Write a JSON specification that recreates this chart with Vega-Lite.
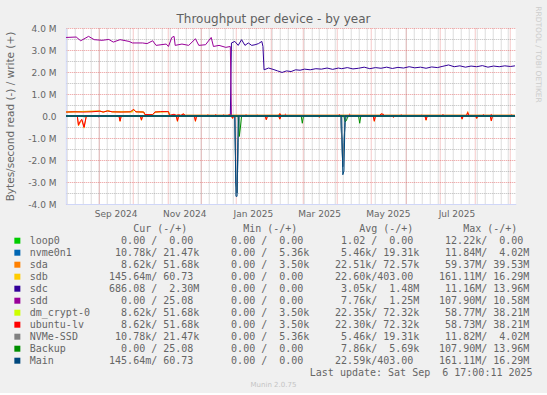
{
  "$schema": "https://vega.github.io/schema/vega-lite/v6.json",
  "background": "#f0f0f0",
  "padding": {"left": 4.75, "top": 5, "right": 5, "bottom": 5},
  "config": {"view": {"stroke": null}, "font": "DejaVu Sans"},
  "title": {"text": "Munin 2.0.75", "orient": "bottom", "anchor": "middle", "frame": "bounds", "font": "DejaVu Sans", "fontSize": 7, "fontWeight": "normal", "color": "#c4c4c4", "offset": 3},
  "datasets": {
    "lines": [
      {"t":"2024-08-03","dev":"loop0","io":"r","v":0},
      {"t":"2025-09-06","dev":"loop0","io":"r","v":0},
      {"t":"2024-08-03","dev":"loop0","io":"w","v":0},
      {"t":"2025-09-06","dev":"loop0","io":"w","v":0},

      {"t":"2024-08-03","dev":"nvme0n1","io":"r","v":0},
      {"t":"2024-12-31","dev":"nvme0n1","io":"r","v":0},
      {"t":"2025-01-01","dev":"nvme0n1","io":"r","v":-3.0},
      {"t":"2025-01-02","dev":"nvme0n1","io":"r","v":-3.5},
      {"t":"2025-01-03","dev":"nvme0n1","io":"r","v":-1.2},
      {"t":"2025-01-04","dev":"nvme0n1","io":"r","v":0},
      {"t":"2025-04-04","dev":"nvme0n1","io":"r","v":0},
      {"t":"2025-04-05","dev":"nvme0n1","io":"r","v":-1.0},
      {"t":"2025-04-06","dev":"nvme0n1","io":"r","v":-2.3},
      {"t":"2025-04-07","dev":"nvme0n1","io":"r","v":-1.2},
      {"t":"2025-04-08","dev":"nvme0n1","io":"r","v":-0.3},
      {"t":"2025-04-09","dev":"nvme0n1","io":"r","v":0},
      {"t":"2025-09-06","dev":"nvme0n1","io":"r","v":0},
      {"t":"2024-08-03","dev":"nvme0n1","io":"w","v":0.02},
      {"t":"2025-09-06","dev":"nvme0n1","io":"w","v":0.02},

      {"t":"2024-08-03","dev":"sda","io":"r","v":0},
      {"t":"2024-08-13","dev":"sda","io":"r","v":0},
      {"t":"2024-08-14","dev":"sda","io":"r","v":-0.45},
      {"t":"2024-08-16","dev":"sda","io":"r","v":-0.25},
      {"t":"2024-08-17","dev":"sda","io":"r","v":-0.2},
      {"t":"2024-08-19","dev":"sda","io":"r","v":-0.55},
      {"t":"2024-08-21","dev":"sda","io":"r","v":0},
      {"t":"2024-09-19","dev":"sda","io":"r","v":0},
      {"t":"2024-09-20","dev":"sda","io":"r","v":-0.25},
      {"t":"2024-09-21","dev":"sda","io":"r","v":0},
      {"t":"2024-10-08","dev":"sda","io":"r","v":0},
      {"t":"2024-10-09","dev":"sda","io":"r","v":-0.2},
      {"t":"2024-10-10","dev":"sda","io":"r","v":0},
      {"t":"2024-11-09","dev":"sda","io":"r","v":0},
      {"t":"2024-11-10","dev":"sda","io":"r","v":-0.25},
      {"t":"2024-11-11","dev":"sda","io":"r","v":0},
      {"t":"2024-11-25","dev":"sda","io":"r","v":0},
      {"t":"2024-11-26","dev":"sda","io":"r","v":-0.25},
      {"t":"2024-11-27","dev":"sda","io":"r","v":0},
      {"t":"2024-12-28","dev":"sda","io":"r","v":0},
      {"t":"2024-12-29","dev":"sda","io":"r","v":-0.12},
      {"t":"2024-12-30","dev":"sda","io":"r","v":0},
      {"t":"2025-01-27","dev":"sda","io":"r","v":0},
      {"t":"2025-01-28","dev":"sda","io":"r","v":-0.18},
      {"t":"2025-01-29","dev":"sda","io":"r","v":0},
      {"t":"2025-02-08","dev":"sda","io":"r","v":0},
      {"t":"2025-02-09","dev":"sda","io":"r","v":-0.15},
      {"t":"2025-02-10","dev":"sda","io":"r","v":0},
      {"t":"2025-03-15","dev":"sda","io":"r","v":0},
      {"t":"2025-03-16","dev":"sda","io":"r","v":-0.06},
      {"t":"2025-03-17","dev":"sda","io":"r","v":0},
      {"t":"2025-05-03","dev":"sda","io":"r","v":0},
      {"t":"2025-05-04","dev":"sda","io":"r","v":-0.25},
      {"t":"2025-05-05","dev":"sda","io":"r","v":0},
      {"t":"2025-05-20","dev":"sda","io":"r","v":0},
      {"t":"2025-05-21","dev":"sda","io":"r","v":-0.06},
      {"t":"2025-05-22","dev":"sda","io":"r","v":0},
      {"t":"2025-06-18","dev":"sda","io":"r","v":0},
      {"t":"2025-06-19","dev":"sda","io":"r","v":-0.2},
      {"t":"2025-06-20","dev":"sda","io":"r","v":0},
      {"t":"2025-07-20","dev":"sda","io":"r","v":0},
      {"t":"2025-07-21","dev":"sda","io":"r","v":-0.15},
      {"t":"2025-07-22","dev":"sda","io":"r","v":0},
      {"t":"2025-08-02","dev":"sda","io":"r","v":0},
      {"t":"2025-08-03","dev":"sda","io":"r","v":-0.12},
      {"t":"2025-08-04","dev":"sda","io":"r","v":0},
      {"t":"2025-08-15","dev":"sda","io":"r","v":0},
      {"t":"2025-08-16","dev":"sda","io":"r","v":-0.23},
      {"t":"2025-08-17","dev":"sda","io":"r","v":0},
      {"t":"2025-09-06","dev":"sda","io":"r","v":0},
      {"t":"2024-08-03","dev":"sda","io":"w","v":0.18},
      {"t":"2024-09-02","dev":"sda","io":"w","v":0.23},
      {"t":"2024-09-05","dev":"sda","io":"w","v":0.18},
      {"t":"2024-09-09","dev":"sda","io":"w","v":0.24},
      {"t":"2024-09-13","dev":"sda","io":"w","v":0.19},
      {"t":"2024-10-01","dev":"sda","io":"w","v":0.19},
      {"t":"2024-10-02","dev":"sda","io":"w","v":0.31},
      {"t":"2024-10-04","dev":"sda","io":"w","v":0.19},
      {"t":"2024-10-11","dev":"sda","io":"w","v":0.18},
      {"t":"2024-10-12","dev":"sda","io":"w","v":0.07},
      {"t":"2024-10-19","dev":"sda","io":"w","v":0.06},
      {"t":"2024-10-21","dev":"sda","io":"w","v":0.18},
      {"t":"2024-11-02","dev":"sda","io":"w","v":0.2},
      {"t":"2024-11-03","dev":"sda","io":"w","v":0.03},
      {"t":"2024-11-14","dev":"sda","io":"w","v":0.03},
      {"t":"2024-11-15","dev":"sda","io":"w","v":0.11},
      {"t":"2024-11-17","dev":"sda","io":"w","v":0.03},
      {"t":"2025-02-08","dev":"sda","io":"w","v":0.03},
      {"t":"2025-02-09","dev":"sda","io":"w","v":0.12},
      {"t":"2025-02-10","dev":"sda","io":"w","v":0.03},
      {"t":"2025-05-09","dev":"sda","io":"w","v":0.03},
      {"t":"2025-05-10","dev":"sda","io":"w","v":0.11},
      {"t":"2025-05-13","dev":"sda","io":"w","v":0.03},
      {"t":"2025-07-25","dev":"sda","io":"w","v":0.03},
      {"t":"2025-07-26","dev":"sda","io":"w","v":0.2},
      {"t":"2025-07-27","dev":"sda","io":"w","v":0.03},
      {"t":"2025-09-06","dev":"sda","io":"w","v":0.03},

      {"t":"2024-08-03","dev":"sdb","io":"r","v":0},
      {"t":"2025-09-06","dev":"sdb","io":"r","v":0},
      {"t":"2024-08-03","dev":"sdb","io":"w","v":0},
      {"t":"2025-09-06","dev":"sdb","io":"w","v":0},

      {"t":"2024-08-03","dev":"sdc","io":"r","v":0},
      {"t":"2025-09-06","dev":"sdc","io":"r","v":0},
      {"t":"2024-08-03","dev":"sdc","io":"w","v":0},
      {"t":"2024-12-27","dev":"sdc","io":"w","v":0},
      {"t":"2024-12-28","dev":"sdc","io":"w","v":3.32},
      {"t":"2024-12-31","dev":"sdc","io":"w","v":3.39},
      {"t":"2025-01-03","dev":"sdc","io":"w","v":3.21},
      {"t":"2025-01-06","dev":"sdc","io":"w","v":3.47},
      {"t":"2025-01-09","dev":"sdc","io":"w","v":3.21},
      {"t":"2025-01-12","dev":"sdc","io":"w","v":3.32},
      {"t":"2025-01-15","dev":"sdc","io":"w","v":3.21},
      {"t":"2025-01-18","dev":"sdc","io":"w","v":3.24},
      {"t":"2025-01-21","dev":"sdc","io":"w","v":3.29},
      {"t":"2025-01-24","dev":"sdc","io":"w","v":3.39},
      {"t":"2025-01-25","dev":"sdc","io":"w","v":3.16},
      {"t":"2025-01-26","dev":"sdc","io":"w","v":2.10},
      {"t":"2025-01-30","dev":"sdc","io":"w","v":2.18},
      {"t":"2025-02-03","dev":"sdc","io":"w","v":2.12},
      {"t":"2025-02-07","dev":"sdc","io":"w","v":2.05},
      {"t":"2025-02-11","dev":"sdc","io":"w","v":1.98},
      {"t":"2025-02-15","dev":"sdc","io":"w","v":2.05},
      {"t":"2025-02-19","dev":"sdc","io":"w","v":2.02},
      {"t":"2025-02-23","dev":"sdc","io":"w","v":2.10},
      {"t":"2025-02-27","dev":"sdc","io":"w","v":2.08},
      {"t":"2025-03-03","dev":"sdc","io":"w","v":2.13},
      {"t":"2025-03-08","dev":"sdc","io":"w","v":2.10},
      {"t":"2025-03-13","dev":"sdc","io":"w","v":2.15},
      {"t":"2025-03-18","dev":"sdc","io":"w","v":2.13},
      {"t":"2025-03-23","dev":"sdc","io":"w","v":2.18},
      {"t":"2025-03-28","dev":"sdc","io":"w","v":2.12},
      {"t":"2025-04-02","dev":"sdc","io":"w","v":2.18},
      {"t":"2025-04-05","dev":"sdc","io":"w","v":2.15},
      {"t":"2025-04-10","dev":"sdc","io":"w","v":2.20},
      {"t":"2025-04-15","dev":"sdc","io":"w","v":2.14},
      {"t":"2025-04-20","dev":"sdc","io":"w","v":2.17},
      {"t":"2025-04-25","dev":"sdc","io":"w","v":2.22},
      {"t":"2025-04-30","dev":"sdc","io":"w","v":2.15},
      {"t":"2025-05-05","dev":"sdc","io":"w","v":2.20},
      {"t":"2025-05-10","dev":"sdc","io":"w","v":2.17},
      {"t":"2025-05-15","dev":"sdc","io":"w","v":2.22},
      {"t":"2025-05-20","dev":"sdc","io":"w","v":2.16},
      {"t":"2025-05-25","dev":"sdc","io":"w","v":2.21},
      {"t":"2025-05-30","dev":"sdc","io":"w","v":2.18},
      {"t":"2025-06-04","dev":"sdc","io":"w","v":2.24},
      {"t":"2025-06-09","dev":"sdc","io":"w","v":2.19},
      {"t":"2025-06-14","dev":"sdc","io":"w","v":2.22},
      {"t":"2025-06-19","dev":"sdc","io":"w","v":2.17},
      {"t":"2025-06-24","dev":"sdc","io":"w","v":2.23},
      {"t":"2025-06-29","dev":"sdc","io":"w","v":2.20},
      {"t":"2025-07-04","dev":"sdc","io":"w","v":2.26},
      {"t":"2025-07-09","dev":"sdc","io":"w","v":2.32},
      {"t":"2025-07-14","dev":"sdc","io":"w","v":2.24},
      {"t":"2025-07-19","dev":"sdc","io":"w","v":2.28},
      {"t":"2025-07-24","dev":"sdc","io":"w","v":2.22},
      {"t":"2025-07-29","dev":"sdc","io":"w","v":2.27},
      {"t":"2025-08-03","dev":"sdc","io":"w","v":2.24},
      {"t":"2025-08-08","dev":"sdc","io":"w","v":2.29},
      {"t":"2025-08-13","dev":"sdc","io":"w","v":2.22},
      {"t":"2025-08-18","dev":"sdc","io":"w","v":2.27},
      {"t":"2025-08-23","dev":"sdc","io":"w","v":2.24},
      {"t":"2025-08-28","dev":"sdc","io":"w","v":2.28},
      {"t":"2025-09-02","dev":"sdc","io":"w","v":2.25},
      {"t":"2025-09-06","dev":"sdc","io":"w","v":2.28},

      {"t":"2024-08-03","dev":"sdd","io":"r","v":0},
      {"t":"2024-08-31","dev":"sdd","io":"r","v":0},
      {"t":"2024-09-01","dev":"sdd","io":"r","v":-0.04},
      {"t":"2024-09-02","dev":"sdd","io":"r","v":0},
      {"t":"2025-09-06","dev":"sdd","io":"r","v":0},
      {"t":"2024-08-03","dev":"sdd","io":"w","v":3.57},
      {"t":"2024-08-12","dev":"sdd","io":"w","v":3.59},
      {"t":"2024-08-16","dev":"sdd","io":"w","v":3.42},
      {"t":"2024-08-23","dev":"sdd","io":"w","v":3.62},
      {"t":"2024-08-28","dev":"sdd","io":"w","v":3.47},
      {"t":"2024-09-04","dev":"sdd","io":"w","v":3.44},
      {"t":"2024-09-10","dev":"sdd","io":"w","v":3.48},
      {"t":"2024-09-14","dev":"sdd","io":"w","v":3.36},
      {"t":"2024-09-20","dev":"sdd","io":"w","v":3.47},
      {"t":"2024-09-28","dev":"sdd","io":"w","v":3.39},
      {"t":"2024-10-01","dev":"sdd","io":"w","v":3.32},
      {"t":"2024-10-10","dev":"sdd","io":"w","v":3.32},
      {"t":"2024-10-14","dev":"sdd","io":"w","v":3.29},
      {"t":"2024-10-19","dev":"sdd","io":"w","v":3.42},
      {"t":"2024-10-22","dev":"sdd","io":"w","v":3.21},
      {"t":"2024-10-31","dev":"sdd","io":"w","v":3.27},
      {"t":"2024-11-02","dev":"sdd","io":"w","v":3.16},
      {"t":"2024-11-05","dev":"sdd","io":"w","v":3.57},
      {"t":"2024-11-07","dev":"sdd","io":"w","v":3.62},
      {"t":"2024-11-08","dev":"sdd","io":"w","v":3.21},
      {"t":"2024-11-14","dev":"sdd","io":"w","v":3.27},
      {"t":"2024-11-20","dev":"sdd","io":"w","v":3.21},
      {"t":"2024-11-26","dev":"sdd","io":"w","v":3.51},
      {"t":"2024-11-29","dev":"sdd","io":"w","v":3.21},
      {"t":"2024-12-05","dev":"sdd","io":"w","v":3.24},
      {"t":"2024-12-10","dev":"sdd","io":"w","v":3.57},
      {"t":"2024-12-12","dev":"sdd","io":"w","v":3.16},
      {"t":"2024-12-17","dev":"sdd","io":"w","v":3.21},
      {"t":"2024-12-23","dev":"sdd","io":"w","v":3.12},
      {"t":"2024-12-27","dev":"sdd","io":"w","v":3.16},
      {"t":"2024-12-28","dev":"sdd","io":"w","v":0},
      {"t":"2025-09-06","dev":"sdd","io":"w","v":0},

      {"t":"2024-08-03","dev":"dm_crypt-0","io":"r","v":0},
      {"t":"2025-09-06","dev":"dm_crypt-0","io":"r","v":0},
      {"t":"2024-08-03","dev":"dm_crypt-0","io":"w","v":0.18},
      {"t":"2024-09-02","dev":"dm_crypt-0","io":"w","v":0.22},
      {"t":"2024-09-05","dev":"dm_crypt-0","io":"w","v":0.18},
      {"t":"2024-09-09","dev":"dm_crypt-0","io":"w","v":0.23},
      {"t":"2024-09-13","dev":"dm_crypt-0","io":"w","v":0.19},
      {"t":"2024-10-01","dev":"dm_crypt-0","io":"w","v":0.19},
      {"t":"2024-10-02","dev":"dm_crypt-0","io":"w","v":0.3},
      {"t":"2024-10-04","dev":"dm_crypt-0","io":"w","v":0.19},
      {"t":"2024-10-11","dev":"dm_crypt-0","io":"w","v":0.18},
      {"t":"2024-10-12","dev":"dm_crypt-0","io":"w","v":0.07},
      {"t":"2024-10-19","dev":"dm_crypt-0","io":"w","v":0.06},
      {"t":"2024-10-21","dev":"dm_crypt-0","io":"w","v":0.18},
      {"t":"2024-11-02","dev":"dm_crypt-0","io":"w","v":0.2},
      {"t":"2024-11-03","dev":"dm_crypt-0","io":"w","v":0.03},
      {"t":"2025-09-06","dev":"dm_crypt-0","io":"w","v":0.03},

      {"t":"2024-08-03","dev":"ubuntu-lv","io":"r","v":0},
      {"t":"2024-08-13","dev":"ubuntu-lv","io":"r","v":0},
      {"t":"2024-08-14","dev":"ubuntu-lv","io":"r","v":-0.4},
      {"t":"2024-08-16","dev":"ubuntu-lv","io":"r","v":-0.2},
      {"t":"2024-08-17","dev":"ubuntu-lv","io":"r","v":-0.15},
      {"t":"2024-08-19","dev":"ubuntu-lv","io":"r","v":-0.5},
      {"t":"2024-08-21","dev":"ubuntu-lv","io":"r","v":0},
      {"t":"2024-09-19","dev":"ubuntu-lv","io":"r","v":0},
      {"t":"2024-09-20","dev":"ubuntu-lv","io":"r","v":-0.22},
      {"t":"2024-09-21","dev":"ubuntu-lv","io":"r","v":0},
      {"t":"2024-10-08","dev":"ubuntu-lv","io":"r","v":0},
      {"t":"2024-10-09","dev":"ubuntu-lv","io":"r","v":-0.18},
      {"t":"2024-10-10","dev":"ubuntu-lv","io":"r","v":0},
      {"t":"2024-11-09","dev":"ubuntu-lv","io":"r","v":0},
      {"t":"2024-11-10","dev":"ubuntu-lv","io":"r","v":-0.22},
      {"t":"2024-11-11","dev":"ubuntu-lv","io":"r","v":0},
      {"t":"2024-11-25","dev":"ubuntu-lv","io":"r","v":0},
      {"t":"2024-11-26","dev":"ubuntu-lv","io":"r","v":-0.22},
      {"t":"2024-11-27","dev":"ubuntu-lv","io":"r","v":0},
      {"t":"2024-12-28","dev":"ubuntu-lv","io":"r","v":0},
      {"t":"2024-12-29","dev":"ubuntu-lv","io":"r","v":-0.1},
      {"t":"2024-12-30","dev":"ubuntu-lv","io":"r","v":0},
      {"t":"2025-01-27","dev":"ubuntu-lv","io":"r","v":0},
      {"t":"2025-01-28","dev":"ubuntu-lv","io":"r","v":-0.16},
      {"t":"2025-01-29","dev":"ubuntu-lv","io":"r","v":0},
      {"t":"2025-02-08","dev":"ubuntu-lv","io":"r","v":0},
      {"t":"2025-02-09","dev":"ubuntu-lv","io":"r","v":-0.13},
      {"t":"2025-02-10","dev":"ubuntu-lv","io":"r","v":0},
      {"t":"2025-03-15","dev":"ubuntu-lv","io":"r","v":0},
      {"t":"2025-03-16","dev":"ubuntu-lv","io":"r","v":-0.05},
      {"t":"2025-03-17","dev":"ubuntu-lv","io":"r","v":0},
      {"t":"2025-05-03","dev":"ubuntu-lv","io":"r","v":0},
      {"t":"2025-05-04","dev":"ubuntu-lv","io":"r","v":-0.22},
      {"t":"2025-05-05","dev":"ubuntu-lv","io":"r","v":0},
      {"t":"2025-05-20","dev":"ubuntu-lv","io":"r","v":0},
      {"t":"2025-05-21","dev":"ubuntu-lv","io":"r","v":-0.05},
      {"t":"2025-05-22","dev":"ubuntu-lv","io":"r","v":0},
      {"t":"2025-06-18","dev":"ubuntu-lv","io":"r","v":0},
      {"t":"2025-06-19","dev":"ubuntu-lv","io":"r","v":-0.18},
      {"t":"2025-06-20","dev":"ubuntu-lv","io":"r","v":0},
      {"t":"2025-07-20","dev":"ubuntu-lv","io":"r","v":0},
      {"t":"2025-07-21","dev":"ubuntu-lv","io":"r","v":-0.13},
      {"t":"2025-07-22","dev":"ubuntu-lv","io":"r","v":0},
      {"t":"2025-08-02","dev":"ubuntu-lv","io":"r","v":0},
      {"t":"2025-08-03","dev":"ubuntu-lv","io":"r","v":-0.1},
      {"t":"2025-08-04","dev":"ubuntu-lv","io":"r","v":0},
      {"t":"2025-08-15","dev":"ubuntu-lv","io":"r","v":0},
      {"t":"2025-08-16","dev":"ubuntu-lv","io":"r","v":-0.21},
      {"t":"2025-08-17","dev":"ubuntu-lv","io":"r","v":0},
      {"t":"2025-09-06","dev":"ubuntu-lv","io":"r","v":0},
      {"t":"2024-08-03","dev":"ubuntu-lv","io":"w","v":0.18},
      {"t":"2024-08-10","dev":"ubuntu-lv","io":"w","v":0.19},
      {"t":"2024-08-18","dev":"ubuntu-lv","io":"w","v":0.18},
      {"t":"2024-08-26","dev":"ubuntu-lv","io":"w","v":0.19},
      {"t":"2024-09-02","dev":"ubuntu-lv","io":"w","v":0.22},
      {"t":"2024-09-05","dev":"ubuntu-lv","io":"w","v":0.18},
      {"t":"2024-09-09","dev":"ubuntu-lv","io":"w","v":0.23},
      {"t":"2024-09-13","dev":"ubuntu-lv","io":"w","v":0.19},
      {"t":"2024-09-21","dev":"ubuntu-lv","io":"w","v":0.18},
      {"t":"2024-09-29","dev":"ubuntu-lv","io":"w","v":0.19},
      {"t":"2024-10-02","dev":"ubuntu-lv","io":"w","v":0.3},
      {"t":"2024-10-04","dev":"ubuntu-lv","io":"w","v":0.19},
      {"t":"2024-10-11","dev":"ubuntu-lv","io":"w","v":0.18},
      {"t":"2024-10-12","dev":"ubuntu-lv","io":"w","v":0.07},
      {"t":"2024-10-19","dev":"ubuntu-lv","io":"w","v":0.06},
      {"t":"2024-10-21","dev":"ubuntu-lv","io":"w","v":0.18},
      {"t":"2024-10-26","dev":"ubuntu-lv","io":"w","v":0.2},
      {"t":"2024-11-02","dev":"ubuntu-lv","io":"w","v":0.2},
      {"t":"2024-11-03","dev":"ubuntu-lv","io":"w","v":0.03},
      {"t":"2024-11-07","dev":"ubuntu-lv","io":"w","v":0.08},
      {"t":"2024-11-09","dev":"ubuntu-lv","io":"w","v":0.03},
      {"t":"2024-11-11","dev":"ubuntu-lv","io":"w","v":0.06},
      {"t":"2024-11-13","dev":"ubuntu-lv","io":"w","v":0.03},
      {"t":"2024-11-15","dev":"ubuntu-lv","io":"w","v":0.09},
      {"t":"2024-11-17","dev":"ubuntu-lv","io":"w","v":0.03},
      {"t":"2024-12-06","dev":"ubuntu-lv","io":"w","v":0.03},
      {"t":"2024-12-07","dev":"ubuntu-lv","io":"w","v":0.05},
      {"t":"2024-12-08","dev":"ubuntu-lv","io":"w","v":0.03},
      {"t":"2024-12-13","dev":"ubuntu-lv","io":"w","v":0.03},
      {"t":"2024-12-14","dev":"ubuntu-lv","io":"w","v":0.06},
      {"t":"2024-12-15","dev":"ubuntu-lv","io":"w","v":0.03},
      {"t":"2024-12-20","dev":"ubuntu-lv","io":"w","v":0.03},
      {"t":"2024-12-21","dev":"ubuntu-lv","io":"w","v":0.05},
      {"t":"2024-12-22","dev":"ubuntu-lv","io":"w","v":0.03},
      {"t":"2024-12-25","dev":"ubuntu-lv","io":"w","v":0.03},
      {"t":"2024-12-26","dev":"ubuntu-lv","io":"w","v":0.07},
      {"t":"2024-12-27","dev":"ubuntu-lv","io":"w","v":0.03},
      {"t":"2025-01-09","dev":"ubuntu-lv","io":"w","v":0.03},
      {"t":"2025-01-10","dev":"ubuntu-lv","io":"w","v":0.05},
      {"t":"2025-01-11","dev":"ubuntu-lv","io":"w","v":0.03},
      {"t":"2025-01-19","dev":"ubuntu-lv","io":"w","v":0.03},
      {"t":"2025-01-20","dev":"ubuntu-lv","io":"w","v":0.04},
      {"t":"2025-01-21","dev":"ubuntu-lv","io":"w","v":0.03},
      {"t":"2025-02-08","dev":"ubuntu-lv","io":"w","v":0.03},
      {"t":"2025-02-09","dev":"ubuntu-lv","io":"w","v":0.1},
      {"t":"2025-02-10","dev":"ubuntu-lv","io":"w","v":0.03},
      {"t":"2025-02-13","dev":"ubuntu-lv","io":"w","v":0.03},
      {"t":"2025-02-14","dev":"ubuntu-lv","io":"w","v":0.08},
      {"t":"2025-02-15","dev":"ubuntu-lv","io":"w","v":0.03},
      {"t":"2025-04-02","dev":"ubuntu-lv","io":"w","v":0.03},
      {"t":"2025-04-03","dev":"ubuntu-lv","io":"w","v":0.06},
      {"t":"2025-04-04","dev":"ubuntu-lv","io":"w","v":0.03},
      {"t":"2025-04-11","dev":"ubuntu-lv","io":"w","v":0.03},
      {"t":"2025-04-12","dev":"ubuntu-lv","io":"w","v":0.08},
      {"t":"2025-04-13","dev":"ubuntu-lv","io":"w","v":0.03},
      {"t":"2025-05-09","dev":"ubuntu-lv","io":"w","v":0.03},
      {"t":"2025-05-10","dev":"ubuntu-lv","io":"w","v":0.09},
      {"t":"2025-05-12","dev":"ubuntu-lv","io":"w","v":0.08},
      {"t":"2025-05-13","dev":"ubuntu-lv","io":"w","v":0.03},
      {"t":"2025-05-27","dev":"ubuntu-lv","io":"w","v":0.03},
      {"t":"2025-05-28","dev":"ubuntu-lv","io":"w","v":0.05},
      {"t":"2025-05-29","dev":"ubuntu-lv","io":"w","v":0.03},
      {"t":"2025-06-14","dev":"ubuntu-lv","io":"w","v":0.03},
      {"t":"2025-06-15","dev":"ubuntu-lv","io":"w","v":0.04},
      {"t":"2025-06-16","dev":"ubuntu-lv","io":"w","v":0.03},
      {"t":"2025-07-03","dev":"ubuntu-lv","io":"w","v":0.03},
      {"t":"2025-07-04","dev":"ubuntu-lv","io":"w","v":0.06},
      {"t":"2025-07-05","dev":"ubuntu-lv","io":"w","v":0.03},
      {"t":"2025-07-25","dev":"ubuntu-lv","io":"w","v":0.03},
      {"t":"2025-07-26","dev":"ubuntu-lv","io":"w","v":0.15},
      {"t":"2025-07-27","dev":"ubuntu-lv","io":"w","v":0.03},
      {"t":"2025-08-08","dev":"ubuntu-lv","io":"w","v":0.03},
      {"t":"2025-08-09","dev":"ubuntu-lv","io":"w","v":0.06},
      {"t":"2025-08-10","dev":"ubuntu-lv","io":"w","v":0.03},
      {"t":"2025-08-15","dev":"ubuntu-lv","io":"w","v":0.03},
      {"t":"2025-08-16","dev":"ubuntu-lv","io":"w","v":0.07},
      {"t":"2025-08-17","dev":"ubuntu-lv","io":"w","v":0.03},
      {"t":"2025-09-02","dev":"ubuntu-lv","io":"w","v":0.03},
      {"t":"2025-09-03","dev":"ubuntu-lv","io":"w","v":0.05},
      {"t":"2025-09-04","dev":"ubuntu-lv","io":"w","v":0.03},
      {"t":"2025-09-06","dev":"ubuntu-lv","io":"w","v":0.03},

      {"t":"2024-08-03","dev":"NVMe-SSD","io":"r","v":0},
      {"t":"2024-12-31","dev":"NVMe-SSD","io":"r","v":0},
      {"t":"2025-01-01","dev":"NVMe-SSD","io":"r","v":-3.0},
      {"t":"2025-01-02","dev":"NVMe-SSD","io":"r","v":-3.5},
      {"t":"2025-01-03","dev":"NVMe-SSD","io":"r","v":-1.2},
      {"t":"2025-01-04","dev":"NVMe-SSD","io":"r","v":0},
      {"t":"2025-04-04","dev":"NVMe-SSD","io":"r","v":0},
      {"t":"2025-04-05","dev":"NVMe-SSD","io":"r","v":-1.0},
      {"t":"2025-04-06","dev":"NVMe-SSD","io":"r","v":-2.3},
      {"t":"2025-04-07","dev":"NVMe-SSD","io":"r","v":-1.2},
      {"t":"2025-04-08","dev":"NVMe-SSD","io":"r","v":-0.3},
      {"t":"2025-04-09","dev":"NVMe-SSD","io":"r","v":0},
      {"t":"2025-09-06","dev":"NVMe-SSD","io":"r","v":0},
      {"t":"2024-08-03","dev":"NVMe-SSD","io":"w","v":0.02},
      {"t":"2025-09-06","dev":"NVMe-SSD","io":"w","v":0.02},

      {"t":"2024-08-03","dev":"Backup","io":"r","v":0},
      {"t":"2024-08-18","dev":"Backup","io":"r","v":0},
      {"t":"2024-08-19","dev":"Backup","io":"r","v":-0.05},
      {"t":"2024-08-20","dev":"Backup","io":"r","v":0},
      {"t":"2025-01-03","dev":"Backup","io":"r","v":0},
      {"t":"2025-01-04","dev":"Backup","io":"r","v":-0.93},
      {"t":"2025-01-05","dev":"Backup","io":"r","v":-0.5},
      {"t":"2025-01-06","dev":"Backup","io":"r","v":0},
      {"t":"2025-02-28","dev":"Backup","io":"r","v":0},
      {"t":"2025-03-01","dev":"Backup","io":"r","v":-0.33},
      {"t":"2025-03-02","dev":"Backup","io":"r","v":0},
      {"t":"2025-04-07","dev":"Backup","io":"r","v":0},
      {"t":"2025-04-08","dev":"Backup","io":"r","v":-0.26},
      {"t":"2025-04-09","dev":"Backup","io":"r","v":-0.22},
      {"t":"2025-04-10","dev":"Backup","io":"r","v":-0.1},
      {"t":"2025-04-11","dev":"Backup","io":"r","v":0},
      {"t":"2025-04-20","dev":"Backup","io":"r","v":0},
      {"t":"2025-04-21","dev":"Backup","io":"r","v":-0.33},
      {"t":"2025-04-22","dev":"Backup","io":"r","v":0},
      {"t":"2025-09-06","dev":"Backup","io":"r","v":0},
      {"t":"2024-08-03","dev":"Backup","io":"w","v":0},
      {"t":"2025-09-06","dev":"Backup","io":"w","v":0},

      {"t":"2024-08-03","dev":"Main","io":"r","v":0},
      {"t":"2024-12-31","dev":"Main","io":"r","v":0},
      {"t":"2025-01-01","dev":"Main","io":"r","v":-3.65},
      {"t":"2025-01-02","dev":"Main","io":"r","v":-3.65},
      {"t":"2025-01-03","dev":"Main","io":"r","v":0},
      {"t":"2025-04-05","dev":"Main","io":"r","v":0},
      {"t":"2025-04-06","dev":"Main","io":"r","v":-2.67},
      {"t":"2025-04-07","dev":"Main","io":"r","v":-2.5},
      {"t":"2025-04-08","dev":"Main","io":"r","v":0},
      {"t":"2025-09-06","dev":"Main","io":"r","v":0},
      {"t":"2024-08-03","dev":"Main","io":"w","v":0},
      {"t":"2025-09-06","dev":"Main","io":"w","v":0}
    ],
    "table": [
      {"dev":"hdr","col":"Cur","txt":"\u200b\u00a0\u00a0\u00a0\u00a0Cur (-/+)"},
      {"dev":"hdr","col":"Min","txt":"\u200b\u00a0\u00a0\u00a0\u00a0Min (-/+)"},
      {"dev":"hdr","col":"Avg","txt":"\u200b\u00a0\u00a0\u00a0\u00a0\u00a0Avg (-/+)"},
      {"dev":"hdr","col":"Max","txt":"\u200b\u00a0\u00a0\u00a0\u00a0Max (-/+)"},
      {"dev":"loop0","col":"Cur","txt":"\u200b\u00a0\u00a00.00\u00a0/\u00a0\u00a00.00"},
      {"dev":"loop0","col":"Min","txt":"\u200b\u00a0\u00a00.00\u00a0/\u00a0\u00a00.00"},
      {"dev":"loop0","col":"Avg","txt":"\u200b\u00a0\u00a01.02\u00a0/\u00a0\u00a00.00"},
      {"dev":"loop0","col":"Max","txt":"\u200b\u00a012.22k/\u00a0\u00a00.00"},
      {"dev":"nvme0n1","col":"Cur","txt":"\u200b\u00a010.78k/\u00a021.47k"},
      {"dev":"nvme0n1","col":"Min","txt":"\u200b\u00a0\u00a00.00\u00a0/\u00a0\u00a05.36k"},
      {"dev":"nvme0n1","col":"Avg","txt":"\u200b\u00a0\u00a05.46k/\u00a019.31k"},
      {"dev":"nvme0n1","col":"Max","txt":"\u200b\u00a011.84M/\u00a0\u00a04.02M"},
      {"dev":"sda","col":"Cur","txt":"\u200b\u00a0\u00a08.62k/\u00a051.68k"},
      {"dev":"sda","col":"Min","txt":"\u200b\u00a0\u00a00.00\u00a0/\u00a0\u00a03.50k"},
      {"dev":"sda","col":"Avg","txt":"\u200b\u00a022.51k/\u00a072.57k"},
      {"dev":"sda","col":"Max","txt":"\u200b\u00a059.37M/\u00a039.53M"},
      {"dev":"sdb","col":"Cur","txt":"145.64m/\u00a060.73"},
      {"dev":"sdb","col":"Min","txt":"\u200b\u00a0\u00a00.00\u00a0/\u00a0\u00a00.00"},
      {"dev":"sdb","col":"Avg","txt":"\u200b\u00a022.60k/403.00"},
      {"dev":"sdb","col":"Max","txt":"161.11M/\u00a016.29M"},
      {"dev":"sdc","col":"Cur","txt":"686.08\u00a0/\u00a0\u00a02.30M"},
      {"dev":"sdc","col":"Min","txt":"\u200b\u00a0\u00a00.00\u00a0/\u00a0\u00a00.00"},
      {"dev":"sdc","col":"Avg","txt":"\u200b\u00a0\u00a03.05k/\u00a0\u00a01.48M"},
      {"dev":"sdc","col":"Max","txt":"\u200b\u00a011.16M/\u00a013.96M"},
      {"dev":"sdd","col":"Cur","txt":"\u200b\u00a0\u00a00.00\u00a0/\u00a025.08"},
      {"dev":"sdd","col":"Min","txt":"\u200b\u00a0\u00a00.00\u00a0/\u00a0\u00a00.00"},
      {"dev":"sdd","col":"Avg","txt":"\u200b\u00a0\u00a07.76k/\u00a0\u00a01.25M"},
      {"dev":"sdd","col":"Max","txt":"107.90M/\u00a010.58M"},
      {"dev":"dm_crypt-0","col":"Cur","txt":"\u200b\u00a0\u00a08.62k/\u00a051.68k"},
      {"dev":"dm_crypt-0","col":"Min","txt":"\u200b\u00a0\u00a00.00\u00a0/\u00a0\u00a03.50k"},
      {"dev":"dm_crypt-0","col":"Avg","txt":"\u200b\u00a022.35k/\u00a072.32k"},
      {"dev":"dm_crypt-0","col":"Max","txt":"\u200b\u00a058.77M/\u00a038.21M"},
      {"dev":"ubuntu-lv","col":"Cur","txt":"\u200b\u00a0\u00a08.62k/\u00a051.68k"},
      {"dev":"ubuntu-lv","col":"Min","txt":"\u200b\u00a0\u00a00.00\u00a0/\u00a0\u00a03.50k"},
      {"dev":"ubuntu-lv","col":"Avg","txt":"\u200b\u00a022.30k/\u00a072.32k"},
      {"dev":"ubuntu-lv","col":"Max","txt":"\u200b\u00a058.73M/\u00a038.21M"},
      {"dev":"NVMe-SSD","col":"Cur","txt":"\u200b\u00a010.78k/\u00a021.47k"},
      {"dev":"NVMe-SSD","col":"Min","txt":"\u200b\u00a0\u00a00.00\u00a0/\u00a0\u00a05.36k"},
      {"dev":"NVMe-SSD","col":"Avg","txt":"\u200b\u00a0\u00a05.46k/\u00a019.31k"},
      {"dev":"NVMe-SSD","col":"Max","txt":"\u200b\u00a011.82M/\u00a0\u00a04.02M"},
      {"dev":"Backup","col":"Cur","txt":"\u200b\u00a0\u00a00.00\u00a0/\u00a025.08"},
      {"dev":"Backup","col":"Min","txt":"\u200b\u00a0\u00a00.00\u00a0/\u00a0\u00a00.00"},
      {"dev":"Backup","col":"Avg","txt":"\u200b\u00a0\u00a07.86k/\u00a0\u00a05.69k"},
      {"dev":"Backup","col":"Max","txt":"107.90M/\u00a013.96M"},
      {"dev":"Main","col":"Cur","txt":"145.64m/\u00a060.73"},
      {"dev":"Main","col":"Min","txt":"\u200b\u00a0\u00a00.00\u00a0/\u00a0\u00a00.00"},
      {"dev":"Main","col":"Avg","txt":"\u200b\u00a022.59k/403.00"},
      {"dev":"Main","col":"Max","txt":"161.11M/\u00a016.29M"}
    ]
  },
  "bounds": "flush",
  "spacing": 24.7,
  "vconcat": [
    {
      "width": 450,
      "height": 176,
      "view": {"fill": "white", "stroke": null},
      "title": {"text": "Throughput per device - by year", "anchor": "middle", "frame": "bounds", "font": "DejaVu Sans", "fontSize": 12, "fontWeight": "normal", "color": "#606060", "offset": -20},
      "data": {"name": "lines"},
      "layer": [
        {
          "data": {"name": "table"},
          "transform": [{"filter": "datum.col == 'Cur' && datum.dev != 'hdr'"}],
          "mark": {"type": "square", "size": 0, "filled": true},
          "encoding": {
            "color": {"field": "dev", "type": "nominal",
              "scale": {"domain": ["loop0", "nvme0n1", "sda", "sdb", "sdc", "sdd", "dm_crypt-0", "ubuntu-lv", "NVMe-SSD", "Backup", "Main"],
                        "range": ["#00cc00", "#0066b3", "#ff8000", "#ffcc00", "#330099", "#990099", "#ccff00", "#ff0000", "#808080", "#008f00", "#00487d"]},
              "legend": {"orient": "none", "legendX": -53.4, "legendY": 207.7, "title": null, "direction": "vertical",
                "symbolType": "square", "symbolSize": 36, "symbolStrokeWidth": 0, "symbolOpacity": 1,
                "labelFont": "DejaVu Sans Mono", "labelFontSize": 10, "labelColor": "#666666", "labelOffset": 7.4, "labelLimit": 0,
                "rowPadding": 2, "padding": 0}}
          }
        },
        {
          "transform": [{"filter": "datum.dev == 'loop0'"}],
          "mark": {"type": "point", "opacity": 0},
          "encoding": {
            "x": {"field": "t", "type": "temporal",
              "scale": {"type": "utc", "nice": false, "domain": [{"year": 2024, "month": 8, "date": 2, "hours": 17, "utc": true}, {"year": 2025, "month": 9, "date": 6, "hours": 17, "utc": true}]},
              "axis": {"orient": "bottom", "tickCount": {"interval": "week", "step": 1}, "grid": true, "gridColor": "#8f8f8f", "gridOpacity": 0.6, "gridDash": [1, 1], "labels": false, "ticks": false, "domain": false, "title": null}},
            "y": {"field": "v", "type": "quantitative",
              "scale": {"domain": [-4, 4], "nice": false, "zero": false},
              "axis": {"orient": "left", "values": [-3.5, -2.5, -1.5, -0.5, 0.5, 1.5, 2.5, 3.5], "grid": true, "gridColor": "#8f8f8f", "gridOpacity": 0.6, "gridDash": [1, 1], "labels": false, "ticks": false, "domain": false, "title": null}}
          }
        },
        {
          "transform": [{"filter": "datum.dev == 'loop0'"}],
          "mark": {"type": "point", "opacity": 0},
          "encoding": {
            "x": {"field": "t", "type": "temporal",
              "scale": {"type": "utc", "nice": false, "domain": [{"year": 2024, "month": 8, "date": 2, "hours": 17, "utc": true}, {"year": 2025, "month": 9, "date": 6, "hours": 17, "utc": true}]},
              "axis": {"orient": "bottom", "tickCount": {"interval": "month", "step": 1}, "grid": true, "gridColor": "#de4f4f", "gridOpacity": 0.6, "gridDash": [1, 1], "labels": false, "ticks": false, "domain": false, "title": null}},
            "y": {"field": "v", "type": "quantitative",
              "scale": {"domain": [-4, 4], "nice": false, "zero": false},
              "axis": {"orient": "left", "values": [-4, -3, -2, -1, 0, 1, 2, 3, 4], "grid": true, "gridColor": "#de4f4f", "gridOpacity": 0.6, "gridDash": [1, 1],
                "labelExpr": "datum.value == 0 ? '0.0' : (datum.value < 0 ? '-' : '') + format(abs(datum.value), '.1f') + ' M'",
                "labelFont": "DejaVu Sans", "labelFontSize": 9, "labelColor": "#666666", "labelPadding": 9.7, "labelFlush": false, "labelOverlap": false,
                "ticks": false, "domain": true, "domainColor": "#cfd6f8", "domainWidth": 1,
                "title": "Bytes/second read (-) / write (+)", "titleFont": "DejaVu Sans", "titleFontSize": 10.5, "titleFontWeight": "normal", "titleColor": "#666666", "titlePadding": 12.5}}
          }
        },
        {
          "mark": {"type": "line", "strokeWidth": 1},
          "encoding": {
            "x": {"field": "t", "type": "temporal",
              "scale": {"type": "utc", "nice": false, "domain": [{"year": 2024, "month": 8, "date": 2, "hours": 17, "utc": true}, {"year": 2025, "month": 9, "date": 6, "hours": 17, "utc": true}]},
              "axis": {"orient": "bottom", "values": [
                  {"year": 2024, "month": 9, "date": 16, "utc": true},
                  {"year": 2024, "month": 11, "date": 16, "utc": true},
                  {"year": 2025, "month": 1, "date": 16, "utc": true},
                  {"year": 2025, "month": 3, "date": 16, "utc": true},
                  {"year": 2025, "month": 5, "date": 16, "utc": true},
                  {"year": 2025, "month": 7, "date": 16, "utc": true}],
                "format": "%b %Y", "labelFont": "DejaVu Sans", "labelFontSize": 9, "labelColor": "#666666", "labelPadding": 5, "labelFlush": false, "labelOverlap": false,
                "grid": false, "ticks": false, "domain": true, "domainColor": "#cfd6f8", "domainWidth": 1, "title": null}},
            "y": {"field": "v", "type": "quantitative", "scale": {"domain": [-4, 4], "nice": false, "zero": false}, "axis": null},
            "color": {"field": "dev", "type": "nominal",
              "scale": {"domain": ["loop0", "nvme0n1", "sda", "sdb", "sdc", "sdd", "dm_crypt-0", "ubuntu-lv", "NVMe-SSD", "Backup", "Main"],
                        "range": ["#00cc00", "#0066b3", "#ff8000", "#ffcc00", "#330099", "#990099", "#ccff00", "#ff0000", "#808080", "#008f00", "#00487d"]},
              "legend": {"orient": "none", "legendX": -53.4, "legendY": 207.7, "title": null, "direction": "vertical",
                "symbolType": "square", "symbolSize": 36, "symbolStrokeWidth": 0, "symbolOpacity": 1,
                "labelFont": "DejaVu Sans Mono", "labelFontSize": 10, "labelColor": "#666666", "labelOffset": 7.4, "labelLimit": 0,
                "rowPadding": 2, "padding": 0}},
            "detail": {"field": "io", "type": "nominal"}
          }
        },
        {
          "transform": [{"filter": "datum.dev == 'loop0'"}],
          "mark": {"type": "point", "opacity": 0},
          "encoding": {
            "y": {"field": "v", "type": "quantitative", "scale": {"domain": [-4, 4], "nice": false, "zero": false},
              "axis": {"orient": "right", "labels": false, "ticks": false, "domain": false, "grid": false,
                "title": "RRDTOOL / TOBI OETIKER", "titleAngle": 90, "titleFont": "DejaVu Sans", "titleFontSize": 7.5, "titleFontWeight": "normal", "titleColor": "#cccccc",
                "titleX": 21.8, "titleY": 26, "titleAlign": "center", "titleBaseline": "middle"}}
          }
        }
      ],
      "resolve": {"axis": {"x": "independent", "y": "independent"}}
    },
    {
      "width": 466.3,
      "height": 132,
      "view": {"stroke": null},
      "data": {"name": "table"},
      "mark": {"type": "text", "align": "left", "baseline": "middle", "font": "DejaVu Sans Mono", "fontSize": 10, "color": "#666666"},
      "encoding": {
        "x": {"field": "col", "type": "ordinal",
          "scale": {"type": "point", "domain": ["Cur", "Min", "Avg", "Max"], "padding": 0.6195, "align": 0.3177},
          "axis": {"orient": "bottom", "labels": false, "ticks": false, "domain": false, "grid": false,
            "title": "Last update: Sat Sep\u00a0 6 17:00:11 2025", "titleAnchor": "end", "titleFont": "DejaVu Sans Mono", "titleFontSize": 10, "titleFontWeight": "normal", "titleColor": "#666666", "titlePadding": 7}},
        "y": {"field": "dev", "type": "ordinal",
          "scale": {"type": "point", "padding": 0, "domain": ["hdr", "loop0", "nvme0n1", "sda", "sdb", "sdc", "sdd", "dm_crypt-0", "ubuntu-lv", "NVMe-SSD", "Backup", "Main"]},
          "axis": null},
        "text": {"field": "txt"}
      }
    }
  ]
}
